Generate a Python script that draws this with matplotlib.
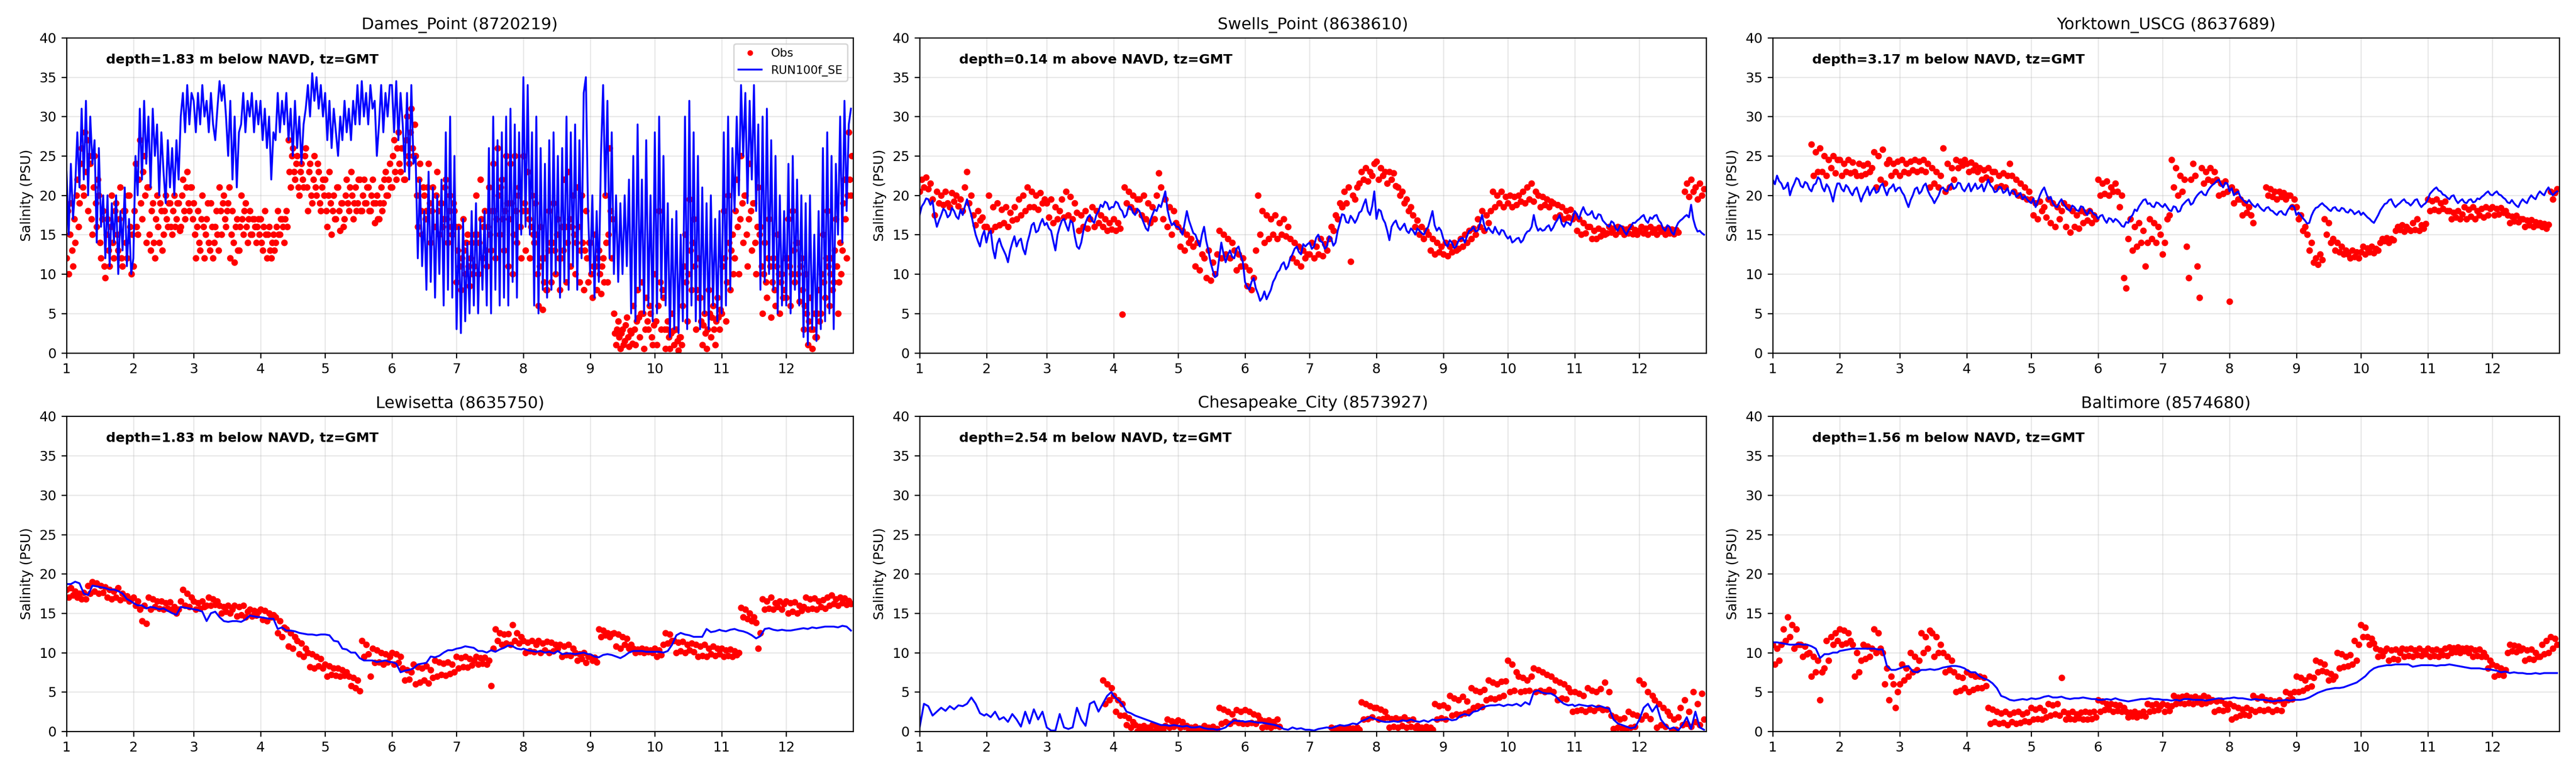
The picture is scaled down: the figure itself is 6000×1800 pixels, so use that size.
import numpy as np
import matplotlib
matplotlib.use("Agg")
import matplotlib.pyplot as plt

nan = float("nan")

# ---------------------------------------------------------------- axes data
MONTH_DAYS = [31, 28, 31, 30, 31, 30, 31, 31, 30, 31, 30, 31]
MONTH_LABELS = ["1", "2", "3", "4", "5", "6", "7", "8", "9", "10", "11", "12"]
Y_TICKS = [0, 5, 10, 15, 20, 25, 30, 35, 40]
STATIONS = ["Dames_Point (8720219)", "Swells_Point (8638610)", "Yorktown_USCG (8637689)",
            "Lewisetta (8635750)", "Chesapeake_City (8573927)", "Baltimore (8574680)"]
DEPTH_NOTES = ["depth=1.83 m below NAVD, tz=GMT", "depth=0.14 m above NAVD, tz=GMT",
               "depth=3.17 m below NAVD, tz=GMT", "depth=1.83 m below NAVD, tz=GMT",
               "depth=2.54 m below NAVD, tz=GMT", "depth=1.56 m below NAVD, tz=GMT"]
SERIES_LABELS = ["Obs", "RUN100f_SE"]
# sampling interval (days) of the series
OBS_STEP_DAYS = [0.5, 1, 1, 1, 1, 1]
MODEL_STEP_DAYS = [1, 1, 1, 2, 2, 2]

# ---------------------------------------------------------------- Dames_Point (obs twice daily, model daily)
DAMES_OBS = [
    [12, 18, 10, 15, 19, 13, 11, 17, 14, 20, 22, 16, 19, 24, 26, 21, 20, 28, 23, 27, 18, 25, 24, 17, 15, 21, 25, 19, 16, 22,
     20, 14, 12, 17, 18, 11, 9.5, 15, 17, 13, 11, 16, 20, 14, 12, 18, 19, 15, 13, 17, 21, 12, 11, 18, 18, 14, 12, 20, 20, 16, 10, 15],
    [11, 18, 24, 16, 15, 22, 27, 19, 17, 23, 25, 20, 14, 21, 21, 15, 13, 18, 19, 14, 12, 17, 20, 16, 14, 19, 18, 13,
     15, 18, 20, 17, 16, 19, 19, 16, 15, 18, 20, 16, 17, 19, 19, 15.5, 16, 20, 22, 18, 17, 21, 23, 19, 18, 21, 21, 17],
    [19, 15, 12, 16, 18, 14, 13, 17, 20, 16, 12, 15, 17, 19, 14, 13, 19, 16, 12, 14, 16, 18, 15, 13, 21, 18, 15, 19, 20, 17, 16, 18,
     19, 21, 12, 15, 18, 14, 11.5, 16, 17, 13, 13, 16, 20, 17, 15, 18, 19, 16, 14, 17, 18, 15, 15, 17, 17, 16, 14, 16, 17, 15],
    [17, 14, 13, 16, 18, 15, 12, 15, 16, 13, 12, 14, 15, 13, 14, 16, 18, 15, 15, 17, 17, 16, 14, 17, 18, 16,
     27, 23, 21, 25, 26, 23, 22, 24, 25, 21, 20, 23, 24, 22, 21, 25, 26, 21, 18, 23, 24, 20, 19, 22, 25, 21, 20, 24, 23, 19, 18, 21, 22, 20],
    [22, 18, 16, 20, 23, 19, 15, 18, 20, 17, 17, 21, 21, 18, 15.5, 19, 19, 16, 17, 20, 22, 19, 18, 21, 23, 20, 17, 19, 21, 18, 19, 22, 22, 18,
     18, 20, 22, 19, 19, 21, 21, 18, 18, 20, 22, 19, 16.5, 19, 20, 17, 17, 19, 21, 18, 19, 22, 23, 20, 20, 22, 24, 21],
    [21, 25, 27, 23, 22, 26, 28, 24, 23, 26, 26, 22, 22, 27, 30, 25, 24, 28, 31, 26, 25, 29, 25, 20, 16, 22, 24, 18, 15, 21, 20, 17,
     18, 21, 24, 19, 14, 18, 21, 16, 16, 20, 23, 18, 15, 19, 19, 16, 17, 21, 22, 17, 14, 18, 20, 16, 15, 19, 18, 16],
    [9, 13, 16, 11, 8, 12, 17, 13, 10, 14, 15, 11, 8.5, 12, 14, 10, 11, 15, 20, 15, 10, 14, 22, 17, 12, 16, 18, 13, 11, 16, 21, 15, 13, 18,
     24, 18, 12, 17, 26, 20, 15, 21, 22, 17, 13, 18, 25, 19, 11, 17, 24, 19, 10, 15, 25, 18, 14, 20, 21, 16, 12, 18],
    [25, 19, 13, 18, 23, 17, 12, 16, 20, 15, 14, 19, 15, 10, 6, 11, 16, 12, 5.5, 9, 12, 8, 8, 13, 18, 14, 9, 14, 19, 13, 10, 15, 17, 12,
     8, 12, 16, 13, 22, 16, 9, 14, 23, 17, 11, 16, 20, 15, 10, 14, 21, 16, 9, 13, 20, 14, 8, 13, 18, 12, 9, 14],
    [14, 10, 7, 11, 15, 11, 8, 12, 13, 10, 7.5, 11, 12, 9, 20, 14, 9, 15, 26, 18, 12, 17, 5, 2.5, 1, 3, 4, 2, 0.5, 2.5, 3, 1,
     1.5, 3.5, 4.5, 2, 0.8, 2.8, 2.5, 1.2, 6, 3, 1, 4, 8, 4.5, 2, 5, 9, 5, 0.5, 3, 7, 4, 3, 6, 5, 2, 1, 3.5],
    [10, 4, 1, 6, 18, 9, 3, 8, 7, 3, 0.5, 3, 4, 2, 0.5, 2.5, 5, 2.8, 1, 3, 3, 1.5, 0.3, 2, 2, 1, 6, 11, 15, 9, 4, 10,
     19.5, 13, 8, 14, 17, 11, 3, 8, 12, 7, 7, 4, 1, 3.5, 5, 2.5, 0.5, 3, 8, 5, 2, 4.5, 6, 3, 1, 4, 7, 4.5, 3, 5.5],
    [5, 11, 18, 12, 4, 9, 20, 14, 8, 13, 15, 10, 12, 18, 22, 16, 10, 17, 25, 19, 14, 20, 20, 15, 11, 17, 24, 18, 13, 19, 19, 14,
     10, 16, 21, 15, 16, 11, 5, 10, 14, 9, 7, 12, 17, 11, 4.5, 9, 12, 8, 6, 11, 15, 10, 5, 9, 10, 7, 8, 12],
    [7, 12, 17, 11, 6, 10, 18, 13, 9, 14, 14, 10, 6.5, 11, 12, 8, 3, 6, 10, 5, 1, 4, 7, 3, 0.5, 3, 5, 2, 2, 5, 8, 4,
     5, 10, 15, 9, 7, 12, 18, 11, 6, 10, 12, 8, 9, 13, 17, 11, 5, 9, 14, 10, 13, 19, 22, 17, 12, 20, 28, 22, 20, 25],
]
DAMES_MOD = [
    [23, 15, 24, 17, 21, 28, 21, 31, 22, 32, 20, 30, 24, 27, 14, 26, 16, 20, 12, 20, 11, 19, 14, 20, 10, 18, 13, 21, 11, 17, 10],
    [12, 25, 20, 31, 22, 32, 24, 30, 21, 31, 25, 29, 20, 28, 23, 19, 27, 21, 26, 20, 27, 22, 30, 33, 28, 34, 29, 33],
    [32, 28, 33, 29, 34, 30, 32, 28, 33, 29, 27, 31, 34.5, 32, 34, 30, 25, 32, 22, 30, 21, 28, 29, 33, 28, 32, 30, 33, 28, 32, 29],
    [32, 27, 31, 26, 30, 22, 28, 27, 33, 28, 32, 29, 33, 27, 31, 25, 32, 26, 30, 24, 29, 31, 34, 30, 35.5, 32, 35, 31, 34, 30],
    [33, 27, 32, 26, 31, 28, 25, 30, 27, 32, 28, 31, 27, 32, 29, 34, 29, 34.5, 30, 33, 29, 34, 31, 32, 25, 29, 34, 28, 33, 30, 34],
    [34, 28, 34.5, 27, 33, 29, 23, 33, 22, 34, 24, 25, 12, 22, 11, 18, 8, 23, 9, 21, 7, 20, 10, 22, 6, 28, 8, 30, 7, 25],
    [3, 16, 2.5, 17, 4, 14, 5, 18, 6, 19, 5, 17, 8, 18, 6, 26, 5, 30, 8, 27, 6, 28, 7, 30, 6, 31, 9, 29, 7, 28, 15],
    [35, 16, 34, 15, 28, 6, 30, 5, 26, 8, 24, 7, 27, 8, 28, 10, 25, 7, 26, 9, 30, 8, 28, 11, 29, 8, 27, 12, 33, 35, 18],
    [10, 20, 7, 18, 9, 25, 34, 20, 32, 12, 28, 10, 20, 9, 19, 10, 20, 11, 22, 5, 25, 4, 29, 8, 22, 5, 27, 6, 20, 4],
    [28, 5, 30, 7, 25, 6, 19, 2, 17, 3, 18, 2.5, 15, 4, 30, 3, 32, 6, 28, 4, 25, 3, 21, 5, 19, 3, 20, 6, 17, 4, 18],
    [5, 28, 6, 30, 8, 26, 18, 30, 20, 34, 25, 33, 19, 32, 22, 34, 18, 29, 8, 30, 9, 31, 10, 27, 8, 25, 5, 20, 6, 18],
    [6, 24, 5, 25, 8, 22, 6, 20, 2, 19, 1, 20, 3, 15, 1.5, 18, 3, 26, 4, 28, 5, 25, 3, 24, 15, 30, 14, 32, 18, 29, 31],
]

# ---------------------------------------------------------------- Swells_Point (daily)
SWELLS_OBS = [
    [20.5, 22, 21, 22.3, 20.8, 21.5, 19.5, 17.5, 20.5, 19, 20, 18.8, 20.5, 19, 18.5, 20.3, 19.2, 20, 18.6, 19.5, 18, 21, 23, 19, 20, 17.5, 16.2, 18, 16.8, 17.2, 16],
    [16, 20, 15.5, 18.5, 16, 19, 16.2, 18.2, 16.5, 18.5, 16, 17.8, 16.8, 18.5, 17, 19.5, 17.5, 20, 18, 21, 18.5, 20.5, 18.5, 20, 18.2, 20.3, 19, 19.5],
    [19, 17.2, 19.5, 16.5, 18.5, 17, 18, 19.5, 17.2, 20.5, 17.5, 19.8, 17, 19, 17.8, 15.5, 17.5, 16, 18, 15.8, 17, 18.5, 16, 18, 16.5, 17.5, 16, 17, 15.5, 16.5, 15.7],
    [17, 15.5, 16.5, 15.8, 4.9, 21, 19, 20.5, 18.5, 20, 18, 19.5, 19.5, 17.5, 20, 17, 19, 16.5, 18.5, 17, 20, 22.8, 21, 17, 19.5, 16, 18.5, 15, 18, 16.5],
    [16, 13.5, 15.5, 13, 15, 14, 14.5, 13.5, 11, 14, 10.5, 12.5, 12, 9.5, 13, 9.2, 11.5, 10, 12.5, 15.5, 12, 15, 12.5, 14.5, 12, 14, 13, 10.5, 12.5, 11, 12],
    [11, 8.5, 10.5, 8, 9.5, 13, 20, 15, 18, 14, 17.5, 14.5, 17, 15, 17.5, 14.5, 16.5, 15, 17, 14.8, 16, 14.5, 12, 14, 11.5, 13.5, 11, 13, 12, 12.5],
    [12.5, 14, 12, 13.5, 12.5, 14.5, 12.3, 13.8, 13, 14.5, 16, 15.5, 17.5, 17, 19, 18.5, 20.5, 19, 21, 11.6, 20, 19.5, 21, 21.5, 23, 22, 23.5, 21.8, 23, 22.5, 24],
    [24.3, 22, 23.5, 22.5, 23, 21.5, 23, 22, 22.8, 21.2, 21, 20, 20.5, 19, 19.5, 18, 18.5, 17.5, 16, 16.8, 15, 16, 14.5, 15.5, 15, 13, 14.5, 12.5, 14, 12.8, 13.5],
    [12.5, 14, 12.3, 13.5, 12.8, 14, 13, 13.2, 14.5, 13.5, 15, 14, 15.5, 14.5, 15.8, 15, 17, 16, 18, 15.5, 17.5, 16.5, 18, 20.5, 18.5, 20, 19, 20.5, 18.5, 19.8],
    [19, 20, 18.5, 19.8, 18.8, 20, 19.2, 20.5, 19, 21, 19.5, 21.5, 19.2, 20.5, 20, 18.5, 19.8, 18.8, 19.5, 18.5, 19.2, 19, 17.2, 18.8, 17.5, 18.5, 17, 18, 17.2, 18.2, 17],
    [17.5, 15.5, 17, 15, 16.5, 15.2, 16, 16, 14.5, 15.5, 14.5, 15.8, 14.8, 15.5, 15, 15.2, 16, 15.3, 15.8, 15, 16, 15.4, 15.8, 15, 15.7, 15.2, 16, 15.1, 15.6, 15],
    [15.5, 16, 15.2, 15.8, 15, 16, 15.3, 15.7, 15, 15.9, 15.4, 15.6, 15, 15.8, 15.2, 15.7, 15.1, 15.6, 15.3, nan, nan, 20.5, 21.5, 19.8, 22, 20.5, 21, 19.5, 21.5, 20, 20.8],
]
SWELLS_MOD = [
    [17.5, 18.6, 19, 19.6, 19.5, 18.8, 19.3, 17.2, 16, 16.8, 17.5, 18.3, 18, 17.2, 17.5, 18.4, 18, 17.3, 17, 18.2, 17.5, 18.6, 19.5, 18.4, 17.5, 16.2, 15, 14.2, 13.5, 14.8, 15.5],
    [14, 15.2, 15.5, 13.2, 12, 13.8, 14.5, 13.6, 13, 12.4, 11.5, 13, 14, 14.8, 13.5, 14.2, 14.5, 13.2, 12.5, 14, 15, 16.2, 16.5, 15.3, 15.5, 16.4, 17, 16.2],
    [16.5, 15.8, 15.5, 14.2, 13, 15, 16, 16.8, 17, 16.2, 15.5, 16.8, 16.5, 14.8, 13.5, 13.2, 14, 15.5, 16.5, 17.2, 17.5, 16.8, 16.5, 17.5, 18, 18.8, 18.5, 19.2, 19, 18.2, 18.5],
    [18.5, 19.2, 19, 18.3, 18, 17.2, 17.5, 18.6, 18.5, 17.8, 17.5, 18.3, 18, 17.2, 16.5, 15.8, 15.5, 16.8, 17.5, 18.2, 18, 18.8, 18.5, 19.5, 20.5, 18.2, 17, 16.2, 16.5, 16],
    [16, 15.6, 15, 16.5, 18, 16.8, 16, 15.2, 15, 14.2, 13.5, 15, 16, 14.2, 13, 11.5, 10.5, 9.6, 9.8, 12, 14, 12.6, 11.5, 12.4, 13, 12.2, 12, 13.2, 13.5, 12.4, 11.5],
    [9, 8.4, 8, 9, 9.5, 8.2, 7.5, 6.6, 7, 7.8, 6.8, 7.4, 8, 9, 9.5, 10.2, 10.5, 11.2, 11.5, 10.6, 11, 12, 12.5, 13.2, 13.5, 12.8, 12.5, 13.8, 13.5, 13.8],
    [14, 13.2, 13.5, 14.6, 15, 14.2, 14, 13.2, 13.5, 14.8, 14.5, 13.6, 14, 15.5, 16.5, 17.6, 17.5, 16.6, 16.5, 17.4, 17, 16.5, 17, 17.8, 18, 18.8, 19.5, 18, 17.5, 18.6, 20.5],
    [17, 18.2, 18, 17, 16.5, 15.5, 14.3, 16, 16.5, 16.8, 16, 15.6, 16, 16.4, 15.5, 15.2, 15.8, 15.5, 15, 15.8, 15.5, 15.2, 15, 15.6, 16, 17, 18, 16.2, 15.5, 15.9, 15.5],
    [14.5, 13.8, 13.5, 14.3, 14, 13.3, 13.5, 14.2, 14.5, 14.6, 14, 14.8, 15.5, 15.6, 16, 15.4, 15.5, 16.4, 17.5, 16.2, 15.5, 15.9, 15.5, 15.2, 16, 15.4, 15, 15.6, 15.5, 14.9],
    [14.5, 14.8, 14, 14.2, 14.5, 14.6, 14, 14.3, 15, 15.4, 15.5, 16, 17.5, 16.2, 15.5, 15.8, 15.5, 15.6, 16, 16.2, 15.5, 15.9, 16.5, 16.9, 17.5, 16.4, 16, 16.6, 16.5, 16.2, 17],
    [18, 17.6, 17, 17.9, 18.5, 17.8, 17.5, 17.6, 18, 17.2, 17, 17.6, 17.5, 16.8, 16.5, 16.2, 16, 16.7, 16.5, 15.8, 15.5, 16.2, 16, 15.4, 15, 15.6, 16, 16.5, 16.5, 16.8],
    [17, 17.3, 17.5, 16.8, 16.5, 17.2, 17, 17.4, 17.5, 16.8, 16.5, 15.8, 15.5, 16.2, 16, 15.3, 15, 15.9, 16.5, 16.8, 17, 17.3, 17.5, 17.2, 18.8, 17, 16, 15.4, 15.5, 15.2, 15],
]

# ---------------------------------------------------------------- Yorktown_USCG (daily)
YORK_OBS = [
    [nan] * 18 + [26.5, 22.5, 25.5, 23, 26, 23, 25, 22.5, 24.5, 23.5, 25, 22.8, 24.5],
    [24.5, 22.5, 24, 23, 24.5, 22.8, 24.2, 23, 22.5, 24, 22.5, 23.8, 22.7, 24, 23, 23.5, 25.5, 21, 25, 22, 25.8, 21.5, 24, 24.5, 22.5, 24, 23, 24.3],
    [22.5, 24.5, 23, 24, 22.8, 24.3, 23.2, 24.5, 23, 24.3, 23.2, 24.5, 23, 24, 21, 23.5, 21.5, 23, 21, 22.5, 26, 20.5, 24, 21, 23.5, 22, 24.5, 23.5, 24.3, 23.8, 24.5],
    [24, 23, 24.2, 23.2, 23.8, 23, 23.5, 22, 23.2, 22.3, 23.5, 22, 23, 23, 21, 22.5, 21.2, 22.8, 21, 22.5, 24, 22.5, 20.5, 22, 20, 21.5, 19.8, 21, 19.5, 20.5],
    [19.5, 17.5, 19, 17, 19.2, 18, 18.5, 17.2, 19.5, 16.5, 19, 16, 18.5, 17, 18, 19, 16, 18.5, 15.3, 18, 16, 17.5, 15.8, 18, 16.5, 17.8, 16.8, 18, 16.5, 17.5, 17],
    [22, 20, 21.5, 20.2, 21.8, 20, 21, 20.5, 21.5, 20.5, 18.5, 20, 9.5, 8.2, 14.5, 17, 13, 16, 13.5, 16.5, 14, 15.5, 11, 14, 17, 14.5, 16.5, 14, 16, 15],
    [12.5, 14, 17, 17.5, 24.5, 21, 23.5, 20, 22.5, 20.5, 22, 13.5, 9.5, 22, 24, 22.5, 11, 7, 23.5, 21.5, 23, 22, 23.5, 21.8, 23, 22, 20, 21.5, 20.2, 21.8, 20.5],
    [6.5, 21, 19, 20.5, 19.5, 19.5, 17.5, 19, 17.8, 18.5, 17.5, 16.5, nan, nan, nan, nan, nan, 21, 20, 20.8, 19.8, 20.5, 19.5, 20.5, 19.8, 20.3, 19.5, 20, 20, 18.5, 19.5],
    [18.5, 17, 17.5, 15.5, 16, 15, 13, 14, 11.5, 12, 11.2, 12.5, 11.8, 17, 15, 16.5, 14, 14.5, 13, 14, 12.8, 13.5, 12.5, 13, 12.5, 12, 13, 12.2, 12.8, 12],
    [12.8, 13.5, 12.5, 13.3, 12.8, 13.5, 12.7, 13.2, 13, 14, 14.5, 14.2, 14.6, 14, 14.5, 14.3, 15.5, 16, 15.6, 16.2, 15.4, 16, 15.7, 15.5, 16.5, 15.6, 17, 15.5, 16.2, 15.8, 16.4],
    [19.5, 18, 19.3, 18.2, 19.5, 18, 19, 18.3, 19.2, 18, 18, 17, 17.8, 17.2, 18, 17, 17.6, 18.5, 17, 18.2, 17.3, 18.5, 17, 18, 17.5, 18.3, 17.2, 18.5, 17.5, 18.3],
    [18.5, 17.5, 18.3, 17.6, 18.4, 17.8, 18, 17.5, 16.5, 17.3, 16.7, 17.4, 16.6, 17, 17, 16, 16.8, 16.2, 16.9, 16, 16.6, 16.2, 16.5, 16, 16.4, 15.8, 16.3, 20.5, 19.5, 20.3, 20.8],
]
YORK_MOD = [
    [22, 21.4, 22.5, 21.8, 21.5, 20.8, 21, 21.6, 20, 20.9, 21.5, 22.2, 22, 21.2, 21, 21.7, 21.5, 20.8, 20.5, 21.3, 21.5, 22.3, 22, 21, 20.5, 21.4, 21, 20.2, 19.2, 20.6, 21.5],
    [21.5, 20.8, 20.5, 21.3, 21, 20.4, 20, 20.7, 21, 20.1, 19.2, 20, 20.5, 21.1, 20, 20.6, 21, 20.3, 20.5, 21.2, 21.5, 20.7, 20, 20.8, 21, 21.4, 20.5, 20.9],
    [21, 20.4, 20, 19.2, 18.5, 19.4, 20, 20.8, 21, 20.2, 20.5, 21.2, 21.5, 20.6, 20, 19.6, 19, 19.5, 20, 20.8, 21, 20.6, 20.5, 21.2, 21.5, 20.8, 21, 21.6, 21.5, 20.8, 20.5],
    [21, 21.5, 20.5, 21, 21.5, 20.8, 21, 21.4, 20.5, 21.2, 22, 21.3, 21, 20.4, 20.5, 21.1, 21, 20.3, 20.5, 20.9, 20, 20.6, 20.5, 19.8, 20, 20.3, 19.5, 19.9, 19.5, 19.2],
    [19, 19.6, 18.5, 19.2, 20, 20.6, 21, 20.2, 19.5, 19.8, 19, 18.6, 18.5, 19.1, 19.5, 18.9, 18.5, 18.2, 18, 18.7, 18.5, 18.1, 18, 18.6, 18.5, 17.9, 17.5, 18.2, 18, 17.6, 17.5],
    [17, 17.4, 17.5, 16.9, 16.5, 17.1, 17, 16.6, 17, 16.8, 16.5, 16.1, 16, 16.6, 16.5, 17.2, 17.5, 18.2, 18, 18.6, 19, 19.4, 19.5, 18.9, 19, 18.6, 18.5, 19.1, 19, 18.7],
    [18.5, 18.9, 18.5, 18.1, 18, 18.6, 18.5, 17.9, 18, 18.7, 19, 19.3, 19.5, 18.8, 19, 19.6, 20, 20.3, 20.5, 20.1, 20, 20.6, 21, 21.3, 21.5, 21.8, 22, 21.4, 21, 21.6, 21.5],
    [20.5, 20.9, 20, 20.3, 20.5, 19.8, 19.5, 19.2, 19, 19.4, 19, 18.7, 18.5, 18.9, 18.5, 18.2, 18, 18.4, 18.5, 18.1, 18, 17.7, 17.5, 17.9, 18, 17.6, 17.5, 18.1, 18.5, 18.7, 18.5],
    [17.5, 17.8, 17.5, 17.1, 16.8, 16.4, 16.5, 17.4, 18, 18.4, 18.5, 18.8, 19, 18.7, 18.5, 18.2, 18, 18.4, 18.5, 18.1, 18, 18.4, 18.3, 17.9, 17.8, 18.2, 18, 17.6, 17.8, 18],
    [17.5, 17.8, 17.5, 17.2, 17, 16.7, 16.5, 17, 17.5, 18.1, 18.5, 18.9, 19, 19.4, 19.5, 18.9, 18.5, 18.8, 19, 19.3, 19.5, 19.1, 19, 18.7, 19, 19.4, 19.5, 18.9, 18.5, 18.8, 19],
    [19.5, 20.2, 20.5, 20.8, 21, 20.6, 20.5, 20.1, 20, 19.7, 19.5, 19.9, 20, 19.4, 19, 19.3, 19.5, 19.1, 19, 19.4, 19.5, 19.1, 19.2, 19.6, 19.5, 19.8, 20, 20.3, 20.5, 20.1],
    [20, 20.3, 20.5, 20.1, 20, 19.7, 19.5, 19.1, 19, 19.4, 19, 18.7, 18.5, 19.1, 19.5, 19.2, 19, 19.6, 20, 19.7, 19.5, 20.1, 20.5, 20.2, 20, 20.6, 21, 20.4, 20, 20.3, 20.5],
]

# ---------------------------------------------------------------- Lewisetta (obs daily, model every 2 days)
LEWIS_OBS = [
    [18, 17, 18.2, 17.3, 17.8, 17, 17.5, 16.8, 17.6, 16.8, 18.5, 17.5, 19, 17.8, 18.8, 17.5, 18.5, 17.6, 18.3, 17, 18, 16.8, 17.8, 17, 18.2, 16.7, 17.5, 16.9, 17.2, 16.5, 16.8],
    [17, 16, 16.5, 15.5, 14, 16, 13.7, 17, 15.5, 16.8, 15.8, 16.5, 15.6, 16.5, 15.5, 16.3, 15.6, 16.4, 15.5, 15.8, 15, 15.5, 16.5, 18, 16, 17.5, 15.8, 17],
    [16.5, 15.5, 16.3, 15.6, 16.5, 15.8, 16, 17, 16, 16.8, 16.1, 16.5, 16, 15, 15.8, 15.2, 16, 15, 15.5, 16, 14.6, 15.8, 14.8, 16, 14.5, 15.2, 15.5, 14.6, 15.3, 14.7, 15.2],
    [15.5, 14.2, 15.3, 14, 15, 14.5, 14.8, 14.5, 12.5, 14, 12, 13.2, 13, 10.8, 12.5, 10.5, 12, 11.5, 9.8, 11.2, 9.5, 10.5, 10, 8.2, 9.8, 8, 9.5, 8.3, 9.2, 8],
    [8.5, 7, 8.3, 7.2, 8, 7.1, 8, 7, 7.8, 7.1, 7.5, 7, 5.8, 6.8, 5.5, 6.5, 5.1, 11.5, 9.5, 11, 9.8, 7, 10.5, 8.7, 10.3, 8.8, 10, 8.5, 9.8, 8.8, 9.5],
    [10, 8.5, 9.8, 8.7, 9.5, 8, 6.5, 7.8, 6.6, 7.5, 8.5, 6, 8.2, 6.2, 8, 6.5, 8.3, 6.1, 7.8, 6.8, 9, 7, 8.8, 7.2, 8.6, 7.1, 8.8, 7.3, 8.5, 7.5],
    [9.5, 8, 9.3, 8.2, 9.5, 8.1, 9.2, 8.4, 9, 9.5, 8.5, 9.3, 8.6, 9.4, 8.5, 9, 5.8, 10.5, 13, 11.5, 12.5, 11, 12.3, 11.2, 12.4, 11, 13.5, 11.5, 12.5, 11.2, 12],
    [11.5, 10, 11.3, 10.2, 11.5, 10.1, 11, 11.5, 10, 11.2, 10.3, 11.4, 10, 11.3, 10.2, 11, 10.5, 11, 9.5, 10.8, 9.7, 11, 9.6, 10.5, 10, 9, 9.8, 9.2, 10, 8.7, 9.5],
    [9.5, 9, 9.4, 8.8, 13, 12, 12.8, 12.2, 12.5, 12, 12.4, 12.5, 10.8, 12.3, 10.5, 12, 11, 11.8, 10.5, 11, 10.5, 10, 10.4, 10.1, 10.5, 10, 10.4, 10.1, 10.3, 10],
    [10.5, 9.5, 10.3, 9.7, 11, 12.5, 11.2, 12.3, 11.5, 11.5, 10, 11.3, 10.2, 11.4, 10, 11, 10.3, 11.2, 10.1, 11, 9.5, 10.8, 9.6, 11, 9.5, 10.5, 9.8, 10.8, 9.6, 10.5, 9.8],
    [10.5, 9.5, 10.3, 9.6, 10.4, 9.5, 10.2, 9.7, 10, 15.7, 14.5, 15.5, 14.3, 15, 14, 14.5, 13.8, 10.5, 12.5, 16.8, 15.5, 16.5, 15.6, 17, 15.5, 16.3, 15.8, 16.5, 15.5, 16.2],
    [16.5, 15, 16.3, 15.2, 16.4, 15, 16, 15.3, 15.8, 17, 15.5, 16.8, 15.6, 16.9, 15.5, 16.5, 15.8, 16.7, 15.6, 17, 16, 17.3, 16.2, 16.8, 16, 17, 16.3, 16.9, 16.1, 16.6, 16.2],
]
LEWIS_MOD = [
    [18.7, 18.7, 19, 18.8, 17.5, 17.3, 18.5, 18.4, 18.3, 18.2, 18, 18, 17.8, 17.5, 16.8, 16.5],
    [16.3, 16, 16, 15.6, 15.8, 15.7, 15.5, 15.6, 15.3, 15, 14.8, 15.8, 15.7, 15.6],
    [15.5, 15.4, 15.2, 14, 15, 15.2, 14.5, 14, 13.9, 14, 14, 13.9, 14.2, 14.7, 14.6, 14.5],
    [14.5, 14.4, 14.3, 14.3, 13, 13.2, 12.8, 12.8, 12.7, 12.5, 12.4, 12.3, 12.3, 12.2, 12.3],
    [12.3, 12.2, 11.5, 11.4, 10.5, 10.4, 10, 10, 9.3, 9, 9, 9, 8.8, 8.9, 9, 8.8],
    [8.8, 8.6, 7.5, 7.7, 7.8, 8, 8.5, 8.6, 8.7, 9.5, 9.4, 9.6, 10, 10.3, 10.3],
    [10.5, 10.6, 10.8, 10.7, 10.6, 10.2, 10.2, 10, 10.3, 10.1, 10.4, 10.6, 10.9, 10.8, 10.5, 10.4],
    [10.5, 10.3, 10.2, 10.1, 10.2, 10, 10.1, 9.9, 10.2, 9.8, 9.9, 9.9, 9.8, 9.9, 10, 9.8],
    [9.8, 9.5, 9.4, 9.7, 9.8, 9.7, 9.5, 9.3, 9.6, 10, 10.2, 10.2, 10.2, 10.1, 10.1],
    [10.1, 10.1, 10, 10.2, 11, 12.2, 12.5, 12.3, 12.2, 12, 12, 12, 13, 12.6, 12.7, 12.9],
    [12.8, 12.7, 12.9, 13, 12.8, 12.7, 12.5, 12.2, 11.8, 12.1, 13, 13.1, 12.9, 12.8, 12.9],
    [12.8, 12.8, 12.9, 13, 13.1, 13, 13.2, 13.1, 13.2, 13.3, 13.3, 13.3, 13.2, 13.4, 13.3, 12.8],
]

# ---------------------------------------------------------------- Chesapeake_City (obs daily, model every 2 days)
CHES_OBS = [
    [nan] * 31,
    [nan] * 28,
    [nan] * 26 + [6.5, 3.5, 6, 4, 5.5],
    [4.5, 2.5, 4, 2, 3.5, 2, 0.8, 1.7, 0.5, 1.2, 0.8, 0, 0.6, 0.1, 0.7, 0, 0.5, 0.2, 0.8, 0, 0.6, 0.1, 0.5, 0.2, 0.7, 1.5, 0.5, 1.3, 0.6, 1.2],
    [1.4, 0.5, 1.2, 0.6, 0.7, 0, 0.5, 0.1, 0.6, 0, 0.4, 0.2, 0.7, 0, 0.5, 0.1, 0.6, 0, 0.3, 3, 1, 2.8, 1.2, 2.5, 1, 2.2, 1.3, 2.7, 1.1, 2.5, 1],
    [2.7, 1, 2.5, 1.1, 2.2, 1, 2, 1.5, 0.5, 1.3, 0.6, 1.4, 0.5, 1.2, 0.7, 1.5, 0.6] + [nan] * 13,
    [nan] * 10 + [0.5, 0, 0.4, 0.1, 0.5, 0, 0.3, 0.1, 0.5, 0, 0.4, 0.1, 0.5, 0.2, 3.7, 1.5, 3.5, 1.6, 3.2, 1.8, 3],
    [3, 1.5, 2.8, 1.6, 2.5, 1.8, 0.5, 1.6, 0.6, 1.7, 0.5, 1.5, 0.7, 1.8, 0.5, 1.4, 0.6, 1.5, 0.5, 0.7, 0, 0.5, 0.1, 0.6, 0, 0.5, 0.2, 3.5, 1.5, 3.2, 1.7],
    [3.3, 1.5, 3, 4.5, 2, 4.2, 2.2, 4, 2.1, 4.4, 2.3, 3.8, 2.5, 5.5, 3, 5.2, 3.2, 5, 3.1, 5.3, 4, 6.5, 4.2, 6.2, 4.1, 6, 4.3, 6.3, 4.5, 6.4],
    [9, 5, 8.5, 5.2, 7.5, 7, 5, 6.8, 5.1, 6.5, 5.2, 7, 8, 5, 7.8, 5.2, 7.5, 5, 7.2, 5.3, 7, 5, 6.5, 4, 6.2, 4.2, 6, 4.1, 5.5, 5, 2.5],
    [5, 2.6, 4.8, 2.7, 4.5, 2.5, 5.5, 2.8, 5.2, 2.6, 5, 3, 5.4, 2.7, 6.2, 2.8, 5, 2, 0.3, 1.8, 0.5, 1.5, 0.4, 1.7, 0.3, 2.5, 0.5, 2.2, 0.6, 2],
    [6.5, 1.5, 6, 2, 5, 1.6, 4.5, 4, 0.5, 3.5, 0.8, 3, 0.6, 2.5, 2, 0, 1.5, 0.2, 1.8, 3, 0.8, 4, 1, 2.5, 0.6, 5, 1.2, 3.5, 0.8, 4.8, 1.5],
]
CHES_MOD = [
    [0.5, 3.5, 3.2, 2, 2.5, 3, 2.6, 3.2, 2.8, 3.3, 3.2, 3.5, 4.3, 3.5, 2.3, 2],
    [2.2, 1.8, 2.5, 1.5, 1.8, 1.2, 2.2, 1.5, 0.6, 2.5, 1, 2.8, 1.5, 2.5],
    [0.5, 0.1, 0.1, 2.2, 0.5, 0.3, 0.5, 3, 1.5, 0.7, 3.5, 3.8, 2.5, 3.5, 4.5, 5],
    [4.5, 4, 3.5, 2.5, 2.3, 2, 1.8, 1.6, 1.4, 1.2, 1, 0.8, 0.8, 0.7, 0.8],
    [0.7, 0.6, 0.7, 0.5, 0.5, 0.6, 0.4, 0.3, 0.3, 0.2, 0.3, 0.5, 1, 1.4, 1.3, 1.3],
    [1.2, 1.3, 1.2, 1.1, 1.1, 1, 0.9, 0.8, 0.6, 0.3, 0.2, 0.5, 0.3, 0.4, 0.2],
    [0.2, 0.1, 0.3, 0.4, 0.5, 0.4, 0.6, 0.8, 0.7, 0.8, 1, 0.9, 1.3, 1.5, 1.8, 1.6],
    [1.5, 1.3, 1.2, 1.2, 1.3, 1.2, 1.4, 1.3, 1.5, 1.3, 1.2, 1.4, 1.2, 1.5, 1.4, 1.5],
    [1.5, 1.6, 1.4, 1.5, 2, 2.2, 2, 2.5, 2.6, 3, 3.2, 3.3, 3.3, 3.4, 3.2],
    [3.4, 3.3, 3.5, 3.2, 3.7, 3.4, 5, 5.2, 4.9, 4.8, 4.8, 4.5, 3.9, 3.5, 3.3, 3.4],
    [3.2, 3.4, 3.3, 3.2, 3.3, 3.1, 3.2, 3, 2.9, 1.5, 1, 0.8, 0.6, 0.4, 0.5],
    [1.5, 3, 3.5, 2.5, 3.3, 1.5, 0.8, 0.3, 0.5, 0.1, 0.8, 1.8, 0.3, 2.5, 0.5, 0.2],
]

# ---------------------------------------------------------------- Baltimore (obs daily, model every 2 days)
BALT_OBS = [
    [11, 8.5, 10.5, 9, 11, 13, 11.5, 14.5, 12, 13.5, 10.5, 13, 11, 11, 9.5, 10.8, 9.8, 10, 7, 9.5, 7.5, 9, 4, 7.5, 8, 11.5, 9, 12, 11, 12.5, 11.5],
    [13, 11, 12.8, 11.2, 12.5, 11.5, 11, 7, 10, 7.5, 9, 11, 9.2, 10.8, 9.5, 10.5, 13, 10, 12.5, 10.5, 10, 6, 8, 4, 7, 6, 3, 5],
    [6, 8.5, 6.5, 8, 7, 10, 7.5, 9.5, 7.8, 9, 12.5, 10, 12, 10.5, 12.8, 12.5, 9.5, 12, 10, 11, 10, 7.5, 9.5, 7.8, 9, 7.5, 5, 7, 5.2, 6.8, 5.5],
    [7.5, 5, 7.2, 5.3, 7, 5.5, 7, 5.5, 6.8, 5.8, 3, 1, 2.8, 1.2, 2.5, 1, 2.3, 1.1, 2.5, 0.8, 2.2, 1.2, 2.4, 1, 2.5, 1.1, 2.2, 1.3, 2.4, 1.2],
    [3, 1.5, 2.8, 1.6, 3, 1.5, 2.6, 1.8, 3.5, 2, 3.3, 2.2, 3.5, 2, 6.8, 2.5, 1.5, 2.3, 1.6, 2.5, 1.5, 2.2, 1.7, 2.4, 1.5, 2.5, 1.5, 2.4, 1.6, 2.5, 1.8],
    [4, 2.5, 3.8, 2.7, 3.5, 2.8, 3.5, 2.5, 3.4, 2.6, 3.3, 2.5, 3, 2.5, 1.8, 2.4, 1.9, 2.5, 1.8, 2.3, 2, 2.5, 1.9, 3.5, 2.5, 3.3, 2.6, 3.5, 2.7, 3.2],
    [3.5, 2.5, 3.3, 2.6, 3.2, 4.5, 3.5, 4.3, 3.6, 4.4, 3.5, 4.5, 3.6, 4.3, 3.5, 4.4, 3.7, 4.2, 3.5, 4.5, 3.6, 4.3, 3.8, 4, 2.5, 3.8, 2.7, 3.9, 2.6, 3.5, 2.8],
    [3.5, 1.5, 3.2, 1.8, 3, 2, 2.8, 2.1, 3, 2, 2.7, 4.5, 2.5, 4.2, 2.7, 4.4, 2.6, 4, 2.8, 4, 2.5, 3.8, 2.7, 4, 2.6, 3.5, 5, 4, 4.8, 4.1, 5],
    [7, 5, 6.8, 5.2, 6.5, 5.5, 7, 5.7, 6.8, 9, 7.5, 8.8, 7.7, 8.5, 7.5, 6.5, 7.3, 6.6, 7, 10, 8, 9.8, 8.2, 9.5, 8.3, 9.7, 8.5, 11.5, 9, 11],
    [13.5, 12, 13.2, 12, 11, 11.8, 11.2, 10.5, 9.5, 10.3, 9.6, 10.2, 10.5, 9, 10.3, 9.2, 10.4, 9.1, 10, 10.5, 9.5, 10.4, 9.6, 10.5, 9.5, 10.3, 9.7, 10.5, 9.6, 10.2, 9.8],
    [10.5, 9.5, 10.3, 9.6, 10.4, 9.5, 10.2, 9.7, 10.5, 9.6, 10.7, 10, 10.6, 10.1, 10.7, 10, 10.5, 10.2, 10.6, 10, 10.5, 9.5, 10.3, 9.6, 10.4, 9.5, 10, 9.5, 8, 9],
    [8.5, 7, 8.3, 7.2, 8, 7.1, 7.8, 10, 11, 10.2, 10.9, 10.1, 10.8, 10.3, 10.5, 9, 10.3, 9.2, 10.4, 9.1, 10, 9.5, 9.5, 11, 9.8, 11.5, 10, 12, 10.5, 11.8, 11],
]
BALT_MOD = [
    [11.3, 11.3, 11.2, 11.1, 11, 11, 11.1, 11, 11, 10.8, 10.5, 9.3, 9.8, 9.8, 10, 10],
    [10.2, 10.3, 10.4, 10.5, 10.5, 10.5, 10.5, 10.5, 10.5, 10.4, 10.4, 8.3, 7.8, 7.8],
    [8, 8.2, 8.3, 7.6, 7.5, 7.8, 7.8, 7.9, 7.8, 7.9, 8.1, 8.2, 8.3, 8.3, 8.2, 8],
    [7.8, 7.5, 7.5, 7, 6.7, 6.5, 6.1, 5.5, 4.5, 4.3, 4, 3.9, 4, 4.1, 4],
    [4.2, 4.1, 4.2, 4.4, 4.5, 4.3, 4.3, 4.4, 4.2, 4.1, 4.2, 4.2, 4.3, 4.2, 4.1, 4.1],
    [4, 4, 4.1, 4, 4.2, 4, 3.9, 3.8, 3.9, 4, 4.1, 4.1, 4.2, 4.1, 4.1],
    [4, 4, 3.9, 4, 3.9, 4.1, 4.1, 4, 4, 4, 3.9, 4, 4.1, 4.2, 4.1, 4.2],
    [4.2, 4.3, 4.2, 4.2, 4.1, 4, 4.1, 4, 4, 3.9, 3.8, 3.9, 3.9, 4, 3.9, 4],
    [4, 4, 4.1, 4.3, 4.6, 4.9, 5.1, 5.3, 5.4, 5.5, 5.5, 5.6, 5.8, 6, 6.2],
    [6.6, 7, 7.6, 8, 8.2, 8.3, 8.4, 8.4, 8.5, 8.5, 8.5, 8.5, 8.2, 8.3, 8.4, 8.4],
    [8.4, 8.4, 8.3, 8.4, 8.4, 8.5, 8.4, 8.3, 8.2, 8.1, 8, 8, 8, 7.9, 7.9],
    [7.8, 7.7, 7.5, 7.6, 7.4, 7.5, 7.4, 7.4, 7.3, 7.3, 7.4, 7.3, 7.4, 7.4, 7.4, 7.4],
]

OBS_SERIES = [DAMES_OBS, SWELLS_OBS, YORK_OBS, LEWIS_OBS, CHES_OBS, BALT_OBS]
MOD_SERIES = [DAMES_MOD, SWELLS_MOD, YORK_MOD, LEWIS_MOD, CHES_MOD, BALT_MOD]

MONTH_START = np.concatenate([[0], np.cumsum(MONTH_DAYS)[:-1]])


def expand(monthly, step):
    """Turn per-month lists into (day-of-year, value) arrays."""
    t, v = [], []
    for start, vals in zip(MONTH_START, monthly):
        t.extend(start + step * np.arange(len(vals)))
        v.extend(vals)
    return np.asarray(t, float), np.asarray(v, float)


DPI = 240
fig, axes = plt.subplots(2, 3, figsize=(6000 / DPI, 1800 / DPI), dpi=DPI)
fig.subplots_adjust(left=155 / 6000, right=5961 / 6000, bottom=97 / 1800, top=1712 / 1800,
                    wspace=0.0846, hspace=0.2016)

for i, ax in enumerate(axes.flat):
    t_o, v_o = expand(OBS_SERIES[i], OBS_STEP_DAYS[i])
    t_m, v_m = expand(MOD_SERIES[i], MODEL_STEP_DAYS[i])
    ax.plot(t_o, v_o, linestyle="none", marker="o", ms=4.6, mew=0, color="red",
            label=SERIES_LABELS[0])
    ax.plot(t_m, v_m, "-", color="blue", lw=1.3, label=SERIES_LABELS[1])
    ax.set_xlim(0, 365)
    ax.set_ylim(0, 40)
    ax.set_xticks(MONTH_START)
    ax.set_xticklabels(MONTH_LABELS)
    ax.set_yticks(Y_TICKS)
    ax.tick_params(labelsize=9.5)
    ax.grid(True, alpha=0.3)
    ax.set_title(STATIONS[i], fontsize=11.4)
    ax.set_ylabel("Salinity (PSU)", fontsize=9.5)
    ax.text(0.05, 0.95, DEPTH_NOTES[i], transform=ax.transAxes, fontsize=9.4,
            fontweight="bold", va="top", ha="left")
    if i == 0:
        leg = ax.legend(loc="upper right", fontsize=8.1, markerscale=0.85)

fig.savefig("out.png", dpi=DPI)
